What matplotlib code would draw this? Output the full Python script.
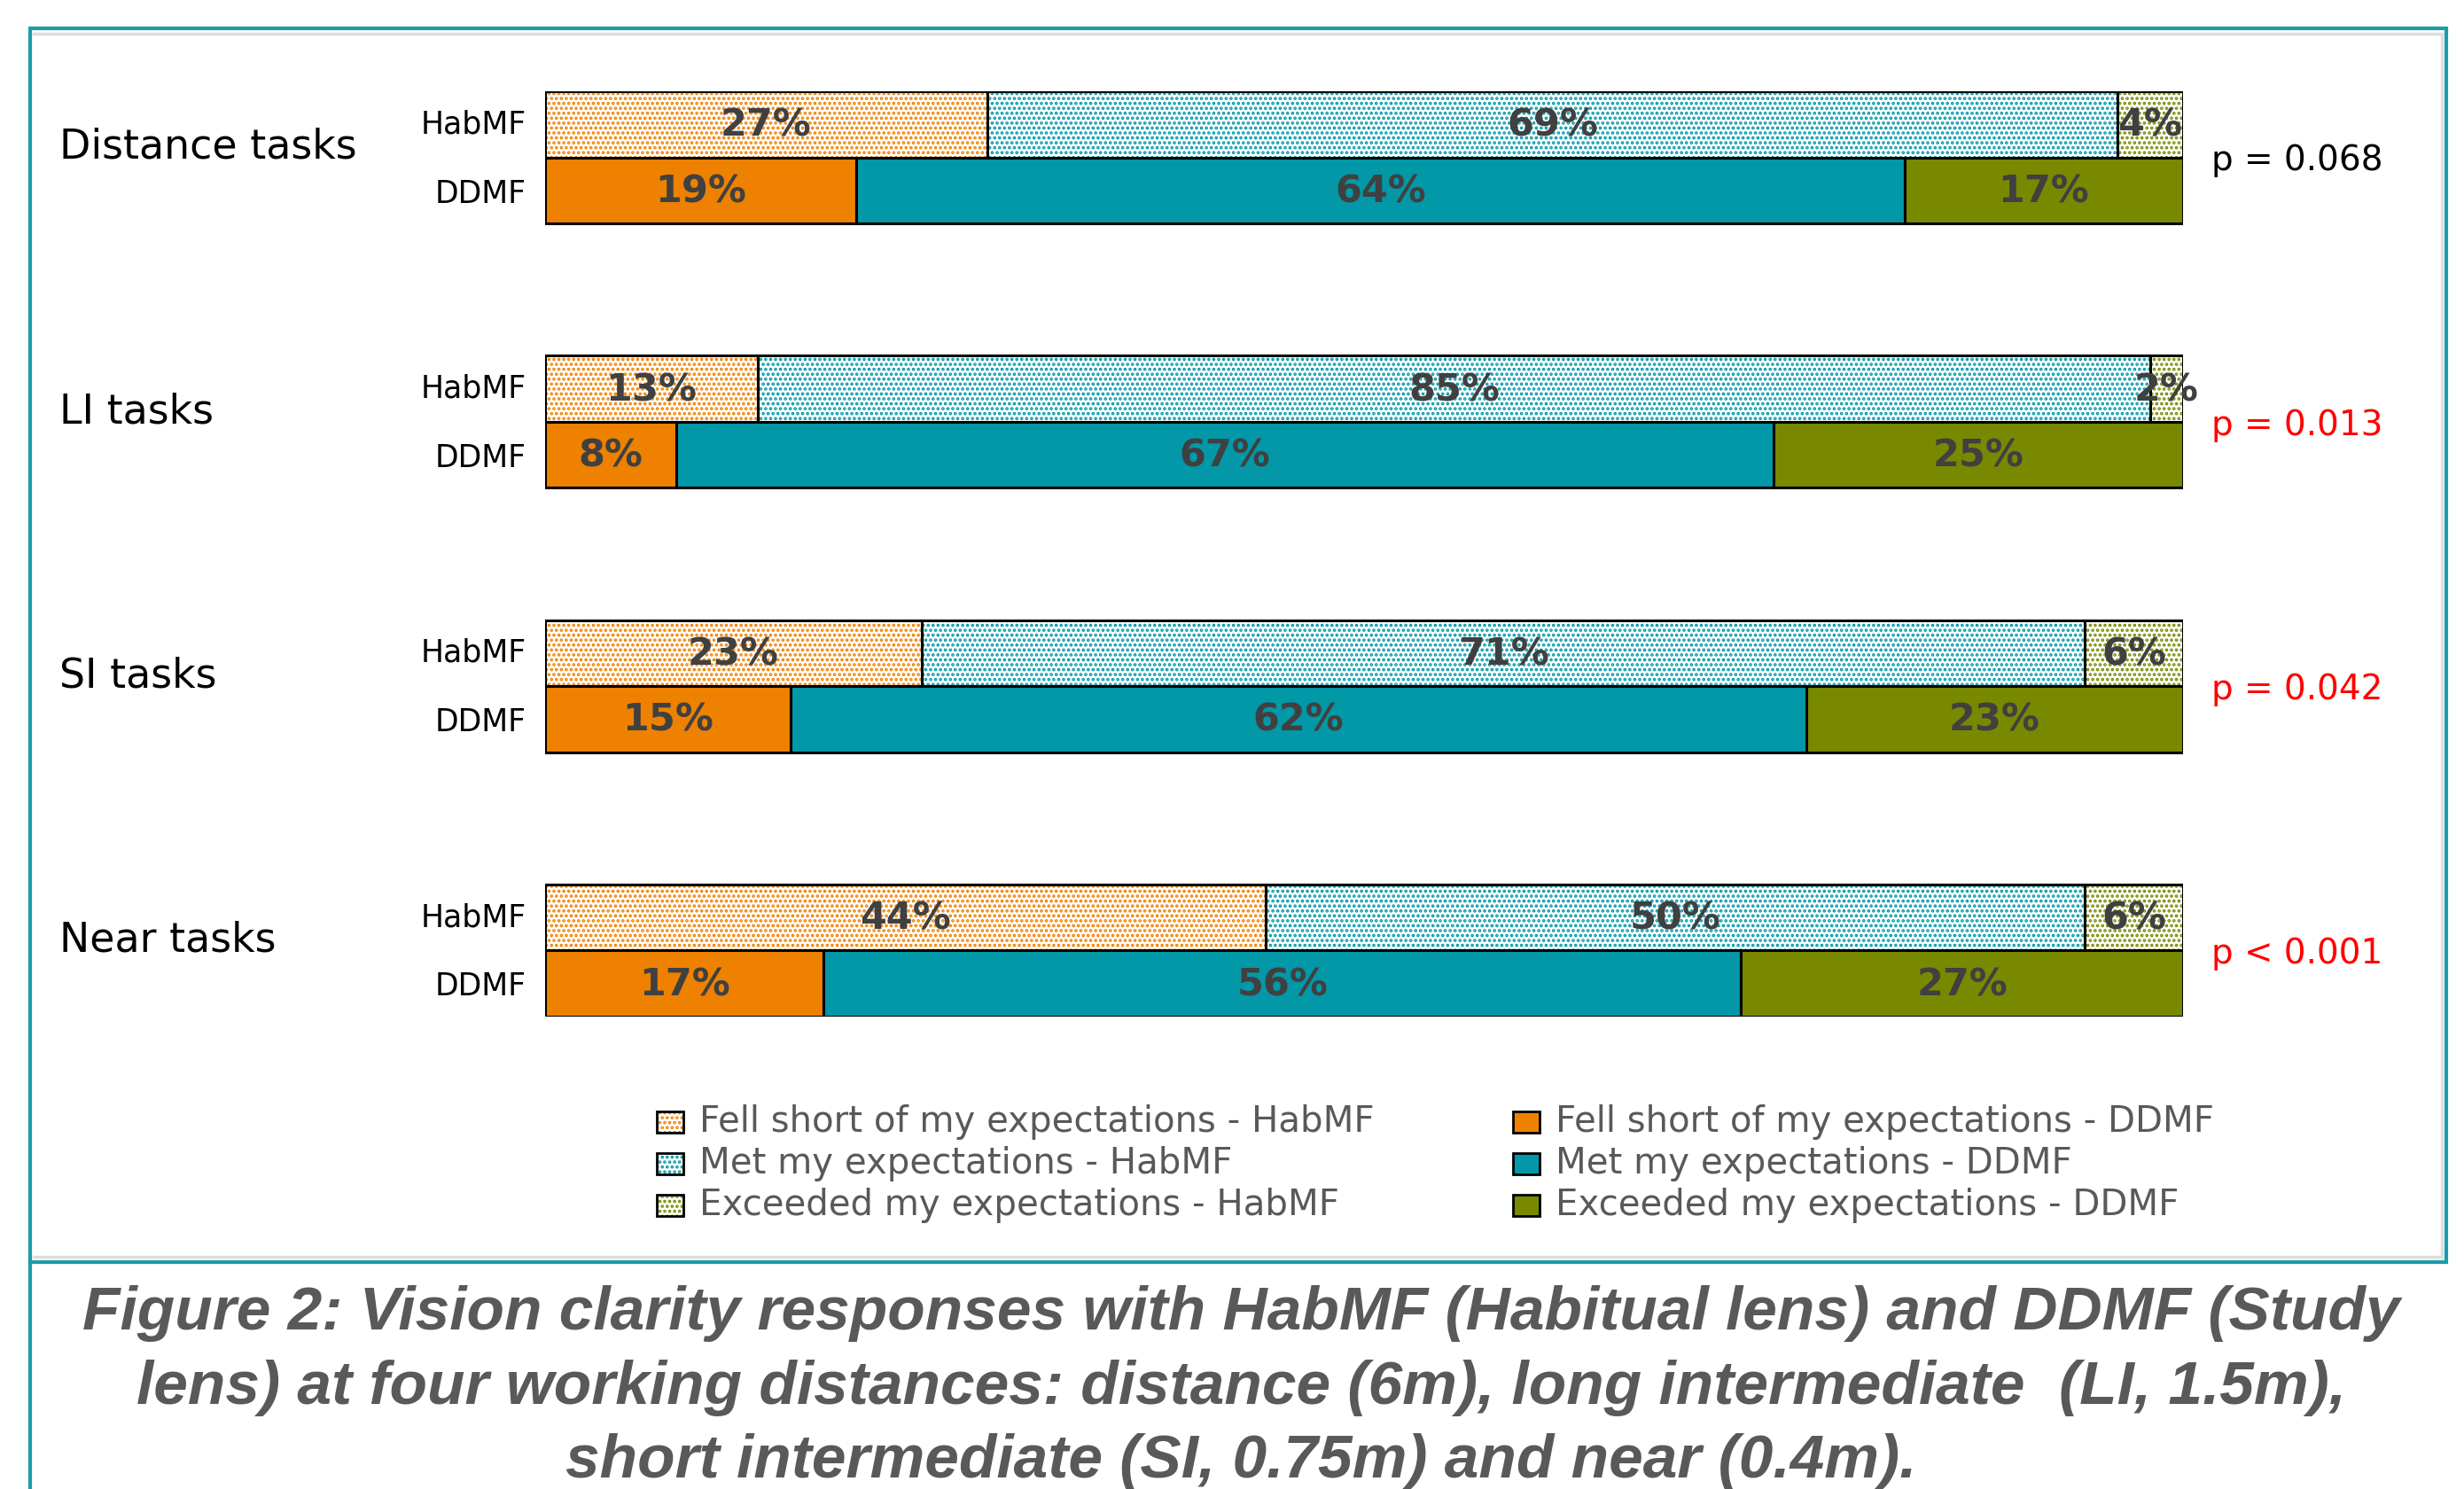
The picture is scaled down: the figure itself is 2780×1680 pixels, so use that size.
import matplotlib.pyplot as plt
import matplotlib.transforms as mtransforms
from matplotlib.patches import Rectangle
from matplotlib.lines import Line2D

# data
tasks = ['Distance tasks', 'LI tasks', 'SI tasks', 'Near tasks']
lenses = ['HabMF', 'DDMF']
responses = ['Fell short of my expectations', 'Met my expectations',
             'Exceeded my expectations']

habmf_fell = [27, 13, 23, 44]
habmf_met = [69, 85, 71, 50]
habmf_exc = [4, 2, 6, 6]
ddmf_fell = [19, 8, 15, 17]
ddmf_met = [64, 67, 62, 56]
ddmf_exc = [17, 25, 23, 27]

p_values = ['p = 0.068', 'p = 0.013', 'p = 0.042', 'p < 0.001']
p_colors = ['black', 'red', 'red', 'red']

caption_lines = [
    'Figure 2: Vision clarity responses with HabMF (Habitual lens) and DDMF (Study',
    'lens) at four working distances: distance (6m), long intermediate  (LI, 1.5m),',
    'short intermediate (SI, 0.75m) and near (0.4m).',
]

colors = ['#EE8100', '#0298A7', '#788900']
teal_frame = '#1A9DAA'
label_gray = '#404040'
text_gray = '#595959'
hatch = '...'

plt.rcParams['hatch.linewidth'] = 1.8

W, H = 2780, 1680


def fx(px):
    return px / W


def fy(py):
    return 1 - py / H


fig = plt.figure(figsize=(W / 100, H / 100), dpi=100)
ax = fig.add_axes([fx(615), fy(1147), fx(2463) - fx(615), fy(103) - fy(1147)])
ax.set_xlim(0, 100)
ax.set_ylim(14, 0)
ax.axis('off')

series = {'HabMF': [habmf_fell, habmf_met, habmf_exc],
          'DDMF': [ddmf_fell, ddmf_met, ddmf_exc]}

trans = mtransforms.blended_transform_factory(fig.transFigure, ax.transData)

for g, task in enumerate(tasks):
    for r, lens in enumerate(lenses):
        y = 4 * g + 0.5 + r
        left = 0
        for k, vals in enumerate(series[lens]):
            v = vals[g]
            if lens == 'HabMF':
                ax.barh(y, v, left=left, height=1, color='white',
                        edgecolor=colors[k], hatch=hatch, linewidth=0)
                ax.barh(y, v, left=left, height=1, fill=False,
                        edgecolor='black', linewidth=2.2)
            else:
                ax.barh(y, v, left=left, height=1, color=colors[k],
                        edgecolor='black', linewidth=2.2)
            ax.text(left + v / 2, y + 0.02, f'{v}%', ha='center', va='center',
                    fontsize=31, fontweight='bold', color=label_gray, clip_on=False)
            left += v
        ax.text(fx(594), y + 0.05 * r, lens, transform=trans, ha='right',
                va='center', fontsize=25, color='black')
    ax.text(fx(67), 4 * g + 0.85, task, transform=trans, ha='left',
            va='center', fontsize=33, color='black')
    ax.text(fx(2495), 4 * g + 1.05, p_values[g], transform=trans, ha='left',
            va='center', fontsize=28, color=p_colors[g])

# legend, two columns (HabMF hatched, DDMF solid)
for c, lens in enumerate(lenses):
    for k, name in enumerate(responses):
        x0 = 741 + 966 * c
        yc = 1266 + 47 * k
        box = (fx(x0), fy(yc + 12))
        bw, bh = 30 / W, 24 / H
        if lens == 'HabMF':
            fig.add_artist(Rectangle(box, bw, bh, transform=fig.transFigure,
                                     facecolor='white', edgecolor=colors[k],
                                     hatch=hatch, linewidth=0))
            fig.add_artist(Rectangle(box, bw, bh, transform=fig.transFigure,
                                     fill=False, edgecolor='black', linewidth=2))
        else:
            fig.add_artist(Rectangle(box, bw, bh, transform=fig.transFigure,
                                     facecolor=colors[k], edgecolor='black',
                                     linewidth=2))
        fig.text(fx(x0 + 48), fy(yc), f'{name} - {lens}', ha='left',
                 va='center', fontsize=29, color=text_gray)

# frame around the chart, and the caption below
fig.add_artist(Rectangle((fx(34), fy(1424)), fx(2760) - fx(34), fy(32) - fy(1424),
                         transform=fig.transFigure, fill=False,
                         edgecolor=teal_frame, linewidth=3))
fig.add_artist(Line2D([fx(34), fx(34)], [fy(1424), 0], transform=fig.transFigure,
                      color=teal_frame, linewidth=3))
fig.add_artist(Line2D([fx(38), fx(2755)], [fy(38), fy(38)], transform=fig.transFigure,
                      color='#DDDDDD', linewidth=2.5))
fig.add_artist(Line2D([fx(2755), fx(2755)], [fy(38), fy(1419)], transform=fig.transFigure,
                      color='#DDDDDD', linewidth=2.5))
fig.add_artist(Line2D([fx(38), fx(2755)], [fy(1418), fy(1418)], transform=fig.transFigure,
                      color='#DDDDDD', linewidth=2.5))

for i, line in enumerate(caption_lines):
    fig.text(fx(1400), fy(1500 + 83.5 * i), line, ha='center', va='baseline',
             fontsize=50, fontweight='bold', fontstyle='italic',
             family='Liberation Sans', color=text_gray)

fig.savefig('out.png', dpi=100, facecolor='white')
